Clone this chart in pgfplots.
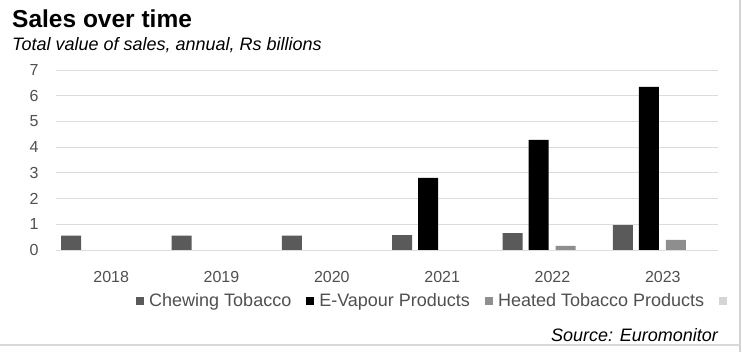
\documentclass[border=0pt]{standalone}
\usepackage{pgfplots}
\pgfplotsset{compat=1.18}
\usepackage{fontspec}
\setmainfont{Liberation Sans}
\definecolor{chew}{HTML}{5A5A5A}
\definecolor{heat}{HTML}{8E8E8E}
\definecolor{fourth}{HTML}{D5D5D5}
\definecolor{tickc}{HTML}{505050}
\definecolor{gridc}{HTML}{DCDCDC}
\begin{document}
\begin{tikzpicture}[x=1pt,y=1pt]
\useasboundingbox (0,0) rectangle (742,352);
\fill[white] (0,0) rectangle (742,352);
\draw[gray!35, line width=1.5pt] (740,0) -- (740,352);
\draw[gray!30, line width=1.5pt] (0,7) -- (740,7);
\node[anchor=base west, inner sep=0pt, font=\bfseries\fontsize{24.5}{26}\selectfont] at (12,324) {Sales over time};
\node[anchor=base west, inner sep=0pt, font=\itshape\fontsize{18}{20}\selectfont] at (12,301) {Total value of sales, annual, Rs billions};
\node[anchor=base east, inner sep=0pt, font=\itshape\fontsize{18}{20}\selectfont] at (718,10) {Source: Euromonitor};
\begin{axis}[
  at={(56pt,102pt)}, anchor=south west,
  scale only axis, width=662pt, height=180pt,
  ybar, bar width=20pt,
  xmin=-0.5, xmax=5.5, ymin=0, ymax=7,
  xtick={0,1,2,3,4,5},
  xticklabels={2018,2019,2020,2021,2022,2023},
  ytick={0,1,2,3,4,5,6,7},
  axis line style={draw=none},
  major tick length=0pt,
  ymajorgrids, grid style={gridc, line width=0.8pt},
  tick label style={font=\fontsize{16}{18}\selectfont, text=tickc},
  /pgf/number format/assume math mode=true,
  xticklabel style={yshift=-18pt},
  yticklabel style={xshift=-14pt},
  legend style={at={(80pt,-51pt)}, anchor=west, draw=none, fill=none,
    legend columns=-1, font=\fontsize{18}{20}\selectfont, text=tickc,
    /tikz/every odd column/.append style={column sep=3pt},
    /tikz/every even column/.append style={column sep=13pt},
    inner sep=0pt},
  legend image code/.code={\fill[#1] (0pt,-4pt) rectangle (8pt,4pt);},
  clip=false,
]
\addplot[fill=chew, draw=none, bar shift=-40pt] coordinates {(0,0.56) (1,0.56) (2,0.56) (3,0.58) (4,0.66) (5,0.97)};
\addplot[fill=black, draw=none, bar shift=-14pt] coordinates {(3,2.80) (4,4.28) (5,6.34)};
\addplot[fill=heat, draw=none, bar shift=13pt] coordinates {(4,0.16) (5,0.39)};
\legend{Chewing Tobacco, E-Vapour Products, Heated Tobacco Products}
\addlegendimage{fill=fourth, draw=none}
\addlegendentry{}
\draw[gridc, line width=0.8pt] (axis cs:-0.5,0) -- (axis cs:5.5,0);
\end{axis}
\end{tikzpicture}
\end{document}
